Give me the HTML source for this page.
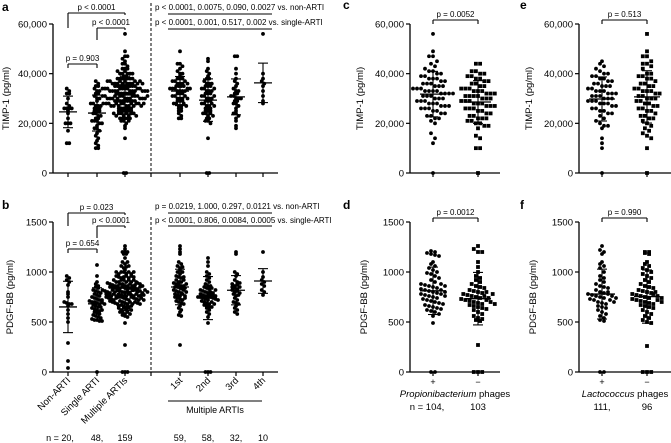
<!DOCTYPE html>
<html><head><meta charset="utf-8"><style>
body{margin:0;background:#fff}
svg{display:block;font-family:"Liberation Sans",sans-serif}
</style></head><body>
<svg id="fig" width="671" height="443" viewBox="0 0 671 443" xmlns="http://www.w3.org/2000/svg"></svg>
<script>
// ---- data (TIMP-1 in thousands pg/ml, PDGF-BB in pg/ml) ----
const groupLabels=["Non-ARTI","Single ARTI","Multiple ARTIs","1st","2nd","3rd","4th"];
const nLabels=["n = 20,","48,","159","59,","58,","32,","10"];
const timpNon=[34,33,32,32,30,28,27,26,26,26,25,24,22,20,20,20,17,12,12,26];
const timpSingle=[37,36,35,35,34,33,33,32,32,31,30,30,29,28,28,27,27,26,26,25,25,25,24,24,23,23,22,22,21,21,21,20,20,19,18,18,17,16,15,14,13,12,11,10,10,26,27,28];
const timp1st=[49,44,44,43,42,41,40,40,39,38,38,37,37,36,36,35,35,35,34,34,34,33,33,33,32,32,32,31,31,30,30,30,29,29,28,28,27,27,26,26,25,25,24,23,22,22,33,34,35,36,37,31,30,29,28,27,34,36,38];
const timp2nd=[46,45,42,41,40,39,38,38,37,36,36,35,35,34,34,33,33,32,32,31,31,30,30,29,29,28,28,27,27,26,26,25,25,24,24,23,22,22,21,21,20,14,0,0,30,31,32,33,34,28,29,27,26,35,36,25,24,23];
const timp3rd=[47,47,42,40,38,37,36,35,34,33,33,32,32,31,31,30,30,29,28,28,27,26,25,24,24,23,22,21,19,18,30,29];
const timp4th=[56,40,38,37,36,35,33,31,29,28];
const pdgfNon=[960,940,920,900,870,800,780,750,700,690,680,680,660,620,580,540,500,290,110,40];
const pdgfSingle=[1070,960,900,880,860,850,840,820,810,800,790,780,770,760,750,740,730,720,710,700,700,690,680,670,660,650,640,630,620,610,600,590,580,570,560,550,540,530,520,520,510,510,700,720,680,650,620,0];
const pdgf1st=[1260,1230,1200,1180,1100,1080,1060,1040,1020,1000,980,960,950,940,920,900,890,880,870,860,850,850,840,830,820,810,800,790,780,770,760,750,740,730,720,710,700,690,680,660,640,620,600,570,560,270,860,880,900,840,820,800,780,760,740,920,950,1000,1050];
const pdgf2nd=[1140,1100,1060,1000,980,960,940,920,900,880,860,850,840,830,820,810,800,790,780,770,760,760,750,750,740,730,720,710,700,690,680,670,660,650,640,620,600,580,550,490,0,0,0,800,790,780,770,760,750,740,730,720,820,840,860,700,680,650];
const pdgf3rd=[1200,1180,1000,980,960,920,900,880,860,850,840,830,820,800,780,760,740,720,700,690,680,660,640,620,600,580,850,870,890,810,790,770];
const pdgf4th=[1200,1000,950,920,900,880,860,820,800,770];
const timpPropPlus=[56,49,47,47,45,44,43,42,41,41,40,40,39,39,38,38,38,37,37,36,36,36,35,35,35,34,34,34,33,33,33,33,32,32,32,32,31,31,31,30,30,30,29,29,29,28,28,28,27,27,27,26,26,26,25,25,24,24,23,23,22,22,21,20,16,14,12,0];
const timpPropMinus=[44,44,41,41,40,40,39,39,38,38,37,37,36,36,35,35,34,34,34,33,33,33,32,32,32,31,31,31,31,30,30,30,29,29,29,28,28,28,27,27,27,26,26,26,25,25,24,24,23,23,22,22,22,21,21,20,20,19,19,18,15,14,10,10,0];
const timpLactPlus=[45,44,43,42,41,40,40,39,39,38,38,37,37,36,36,35,35,35,34,34,33,33,33,32,32,32,31,31,31,30,30,30,29,29,29,28,28,28,27,27,26,26,25,25,24,24,23,22,21,20,19,19,18,14,12,10,0];
const timpLactMinus=[56,49,47,47,45,44,44,43,42,40,40,39,39,38,38,37,36,36,35,35,34,34,33,33,33,32,32,31,31,30,30,30,29,29,28,28,27,27,26,26,25,25,24,23,23,22,22,21,20,19,18,17,16,15,14,10,0];
const pdgfPropPlus=[1210,1200,1190,1180,1170,1160,1100,1080,1060,1040,1020,1000,990,980,960,940,920,900,880,870,860,850,840,830,820,810,800,790,780,770,760,750,740,730,720,710,700,690,680,670,660,650,640,630,620,610,600,580,560,490,0,0,880,860,820,800,780,760];
const pdgfPropMinus=[1260,1230,1200,1200,1100,1050,1000,960,940,920,900,880,860,850,840,820,810,800,790,780,770,760,750,740,730,720,710,700,690,680,670,660,650,640,630,620,600,580,560,540,530,520,510,270,0,0,0,760,740,720,780,800,700,680];
const pdgfLactPlus=[1260,1220,1200,1180,1100,1080,1060,1040,1000,960,940,920,900,880,860,850,840,820,800,790,780,770,760,750,740,730,720,700,690,680,660,650,640,620,600,580,560,540,520,510,0,0,800,780,760,740,720,700];
const pdgfLactMinus=[1200,1200,1190,1180,1100,1080,1060,1040,1020,1000,980,960,940,920,900,880,860,850,840,820,810,800,790,780,770,760,750,740,730,720,710,700,690,680,670,660,650,640,620,600,580,560,540,520,500,490,260,0,0,0,800,780,760,740,720,700];
const timpTicks=[0,20,40,60];
const timpTickLabels=["0","20,000","40,000","60,000"];
const pdgfTicks=[0,500,1000,1500];

const NS="http://www.w3.org/2000/svg";
const svg=document.getElementById("fig");
function el(tag,attrs,parent,text){const e=document.createElementNS(NS,tag);for(const k in attrs)e.setAttribute(k,attrs[k]);if(text!==undefined)e.textContent=text;(parent||svg).appendChild(e);return e;}
function line(x1,y1,x2,y2,g,w,dash){return el("line",{x1,y1,x2,y2,stroke:"#000","stroke-width":w||1,"stroke-dasharray":dash||"none"},g);}
function txt(x,y,s,g,opt){opt=opt||{};const t=el("text",{x,y,"font-size":opt.fs||8.5,"text-anchor":opt.anchor||"middle",fill:"#000","font-weight":opt.bold?"bold":"normal","font-style":opt.italic?"italic":"normal",transform:opt.rot||""},g,s);return t;}
function mean(a){return a.reduce((s,v)=>s+v,0)/a.length;}
function sd(a){const m=mean(a);return Math.sqrt(a.reduce((s,v)=>s+(v-m)*(v-m),0)/(a.length-1));}

function swarm(g,vals,cx,yScale,shape,spacing,name,bin,barW){
  const rows={};
  vals.forEach(v=>{const y=yScale(v);const k=Math.round(y/bin);(rows[k]=rows[k]||[]).push(y);});
  for(const k in rows){const r=rows[k];const n=r.length;r.forEach((y,i)=>{
    const x=cx+(i-(n-1)/2)*spacing;
    let d;
    if(shape==="sq"){d=el("rect",{x:x-1.9,y:y-1.9,width:3.8,height:3.8,fill:"#000"},g);}
    else{d=el("circle",{cx:x,cy:y,r:1.9,fill:"#000"},g);}
    
    
  });}
  const m=mean(vals),s=sd(vals);
  const eb=el("g",{},g);
  
  
  line(cx-barW,yScale(m),cx+barW,yScale(m),eb,1.3);
  line(cx,yScale(m+s),cx,yScale(Math.max(0,m-s)),eb,1.1);
  line(cx-5,yScale(m+s),cx+5,yScale(m+s),eb,1.1);
  line(cx-5,yScale(m-s),cx+5,yScale(m-s),eb,1.1);
}

function axes(g,ax,y0,yTop,x1,ticks,tickLabels,yScale,title,titleX,xTicks){
  const a=el("g",{},g);
  
  
  line(ax,yTop,ax,y0,a,1.3);
  ticks.forEach((t,i)=>{const y=yScale(t);line(ax-4,y,ax,y,a,1.2);txt(ax-6,y+3.5,tickLabels[i],a,{anchor:"end",fs:9.5});});
  const xa=el("g",{},g);
  
  
  line(ax,y0,x1,y0,xa,1.3);
  xTicks.forEach(x=>line(x,y0,x,y0+4,xa,1.2));
  const yt=txt(titleX,(y0+yTop)/2,title,g,{fs:9.5,rot:`rotate(-90 ${titleX} ${(y0+yTop)/2})`});
  
  
}
function bracket(g,x1,x2,y,l1,l2,label){
  line(x1,y,x2,y,g,1.1);line(x1,y,x1,y+l1,g,1.1);line(x2,y,x2,y+l2,g,1.1);
  const t=txt((x1+x2)/2,y-3,label,g,{fs:8});
  
  
}
function letter(x,y,s){const t=txt(x,y,s,svg,{bold:true,fs:12,anchor:"start"});}

const catX=[68,97,125,180,208,236,263];
// ---- panel a ----
const ya=v=>173-v*(149/60);
const ga=el("g",{});
axes(ga,53,173,24,278,timpTicks,timpTickLabels,ya,"TIMP-1 (pg/ml)",9,[...catX,151]);
const timpMultiple=[...timp1st,...timp2nd,...timp3rd,...timp4th];
const timpGroups=[timpNon,timpSingle,timpMultiple,timp1st,timp2nd,timp3rd,timp4th];
timpGroups.forEach((gv,i)=>swarm(ga,gv,catX[i],ya,"c",2.5,'timp-'+i,3.6,9));
line(151,3,151,173,ga,1,"3,2");
bracket(ga,68,125,13,15,2,"p < 0.0001");
bracket(ga,97,125,28,12,2,"p < 0.0001");
bracket(ga,68,97,64,4,4,"p = 0.903");
txt(155,10,"p < 0.0001, 0.0075, 0.090, 0.0027 vs. non-ARTI",ga,{anchor:"start",fs:8});
line(168,14,272,14,ga,1.1);
txt(155,25,"p < 0.0001, 0.001, 0.517, 0.002 vs. single-ARTI",ga,{anchor:"start",fs:8});
line(168,29,272,29,ga,1.1);
letter(2,11,"a");

// ---- panel b ----
const yb=v=>372-v*0.1;
const gb=el("g",{});
axes(gb,53,372,222,278,pdgfTicks,pdgfTicks.map(String),yb,"PDGF-BB (pg/ml)",13,[...catX,151]);
const pdgfMultiple=[...pdgf1st,...pdgf2nd,...pdgf3rd,...pdgf4th];
const pdgfGroups=[pdgfNon,pdgfSingle,pdgfMultiple,pdgf1st,pdgf2nd,pdgf3rd,pdgf4th];
pdgfGroups.forEach((gv,i)=>swarm(gb,gv,catX[i],yb,"c",2.5,'pdgf-'+i,3.6,9));
line(151,217,151,372,gb,1,"3,2");
bracket(gb,68,125,213,13,2,"p = 0.023");
bracket(gb,97,125,226,12,2,"p < 0.0001");
bracket(gb,68,97,249,4,4,"p = 0.654");
txt(155,209,"p = 0.0219, 1.000, 0.297, 0.0121 vs. non-ARTI",gb,{anchor:"start",fs:8});
line(168,213,272,213,gb,1.1);
txt(155,223,"p < 0.0001, 0.806, 0.0084, 0.0005 vs. single-ARTI",gb,{anchor:"start",fs:8});
line(168,226,272,226,gb,1.1);
groupLabels.forEach((s,i)=>{const x=catX[i]+3,y=381;const t=txt(x,y,s,gb,{anchor:"end",fs:9.5,rot:`rotate(-45 ${x} ${y})`});});
line(168,401,262,401,gb,1);
txt(215,413,"Multiple ARTIs",gb,{fs:9});
const nx=[60,97,125,180,208,236,263];
nLabels.forEach((s,i)=>{const t=txt(nx[i],441,s,gb,{fs:9});});
letter(2,209,"b");

// ---- panels c-f ----
function twoGroup(name,ax,x1,x2,xEnd,yScale,top,y0,ticks,tlabels,title,titleX,g1,g2,shape2,pLabel,bin){
  const g=el("g",{});
  axes(g,ax,y0,top,xEnd,ticks,tlabels,yScale,title,titleX,[x1,x2]);
  swarm(g,g1,x1,yScale,"c",4.0,name+'-plus',bin,13);
  swarm(g,g2,x2,yScale,shape2,4.2,name+'-minus',bin,13);
  bracket(g,x1,x2,top-4,4,4,pLabel);
  return g;
}
twoGroup("panel-c-timp1",410,433,478,500,ya,24,173,timpTicks,timpTickLabels,"TIMP-1 (pg/ml)",363,timpPropPlus,timpPropMinus,"sq","p = 0.0052",6.5);
twoGroup("panel-e-timp1",579,602,647,671,ya,24,173,timpTicks,timpTickLabels,"TIMP-1 (pg/ml)",532,timpLactPlus,timpLactMinus,"sq","p = 0.513",6.5);
const gd=twoGroup("panel-d-pdgf",410,433,478,500,yb,222,372,pdgfTicks,pdgfTicks.map(String),"PDGF-BB (pg/ml)",367,pdgfPropPlus,pdgfPropMinus,"sq","p = 0.0012",5.2);
const gf=twoGroup("panel-f-pdgf",579,602,647,671,yb,222,372,pdgfTicks,pdgfTicks.map(String),"PDGF-BB (pg/ml)",536,pdgfLactPlus,pdgfLactMinus,"sq","p = 0.990",5.2);
txt(433,385,"+",gd,{fs:9});txt(478,385,"−",gd,{fs:9});
const pl=el("text",{x:455,y:397,"font-size":9.5,"text-anchor":"middle"},gd);
el("tspan",{"font-style":"italic"},pl,"Propionibacterium");el("tspan",{},pl," phages");
txt(427,410,"n = 104,",gd,{fs:9.5});txt(478,410,"103",gd,{fs:9.5});
txt(602,385,"+",gf,{fs:9});txt(647,385,"−",gf,{fs:9});
const ll=el("text",{x:625,y:397,"font-size":9.5,"text-anchor":"middle"},gf);
el("tspan",{"font-style":"italic"},ll,"Lactococcus");el("tspan",{},ll," phages");
txt(602,410,"111,",gf,{fs:9.5});txt(647,410,"96",gf,{fs:9.5});
letter(343,9,"c");letter(343,209,"d");letter(520,9,"e");letter(520,209,"f");
</script>
</body></html>
